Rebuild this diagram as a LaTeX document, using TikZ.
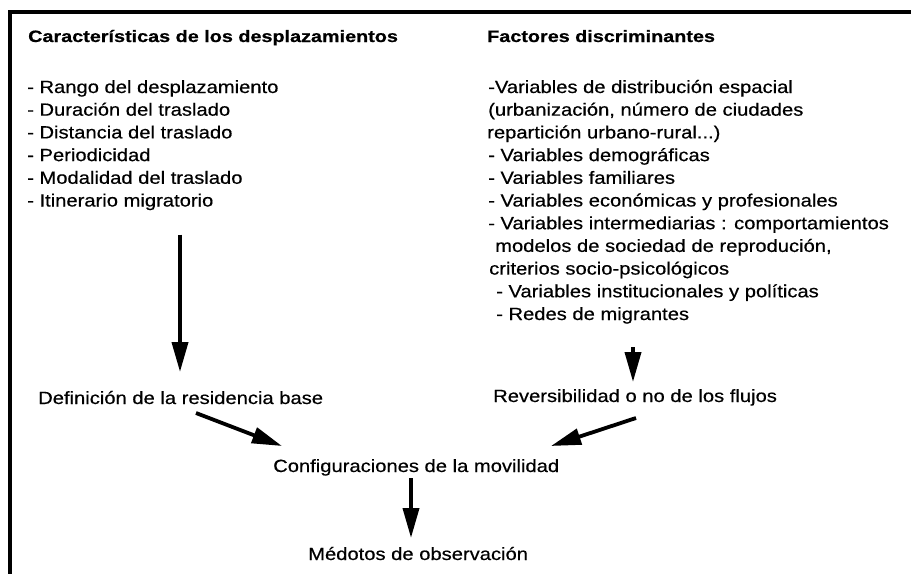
\documentclass[tikz,border=0pt]{standalone}
\usepackage{fontspec}
\setmainfont{Liberation Sans}[FakeStretch=1.14,FakeBold=0.5]
\newfontfamily\hdfont{Liberation Sans}[FakeStretch=1.2,FakeBold=0.6]
\usetikzlibrary{arrows.meta,calc}
\begin{document}
\begin{tikzpicture}[x=1pt,y=-1pt,
  txt/.style={anchor=base west,inner sep=0pt,font=\fontsize{17.7}{20}\selectfont},
  hd/.style={anchor=base west,inner sep=0pt,font=\hdfont\bfseries\fontsize{16.5}{20}\selectfont},
  arr/.style={line width=3.8pt,-{Triangle[length=30pt,width=16pt]}},
  framel/.style={line width=4pt}]
\useasboundingbox (0,0) rectangle (911,574);
\draw[framel] (911,12) -- (10,12) -- (10,574);

\node[hd] (h1) at (28,42) {Características de los desplazamientos};
\node[hd] (h2) at (487,42) {Factores discriminantes};

\node[txt] (l1) at (27,93)    {- Rango del desplazamiento};
\node[txt] (l2) at (27,115.7) {- Duración del traslado};
\node[txt] (l3) at (27,138.4) {- Distancia del traslado};
\node[txt] (l4) at (27,161.1) {- Periodicidad};
\node[txt] (l5) at (27,183.8) {- Modalidad del traslado};
\node[txt] (l6) at (27,206.5) {- Itinerario migratorio};

\node[txt] (r1)  at (488,93)    {-Variables de distribución espacial};
\node[txt] (r2)  at (488,115.7) {(urbanización, número de ciudades};
\node[txt] (r3)  at (487,138.4) {repartición urbano-rural...)};
\node[txt] (r4)  at (488,161.1) {- Variables demográficas};
\node[txt] (r5)  at (488,183.8) {- Variables familiares};
\node[txt] (r6)  at (488,206.5) {- Variables económicas y profesionales};
\node[txt] (r7)  at (488,229.2) {- Variables intermediarias : comportamientos};
\node[txt] (r8)  at (495,251.9) {modelos de sociedad de reprodución,};
\node[txt] (r9)  at (489,274.6) {criterios socio-psicológicos};
\node[txt] (r10) at (496,297.3) {- Variables institucionales y políticas};
\node[txt] (r11) at (496,320)   {- Redes de migrantes};

\node[txt] (def)  at (38,404)  {Definición de la residencia base};
\node[txt] (rev)  at (493,402) {Reversibilidad o no de los flujos};
\node[txt] (conf) at (273,472) {Configuraciones de la movilidad};
\node[txt] (met)  at (308,560) {Médotos de observación};

\draw[arr] ($(l6.base west)+(153,28)$) -- ($(def.base west)+(142,-32)$);
\draw[arr] ($(r11.base west)+(137,27)$) -- ($(rev.base west)+(140,-20)$);
\draw[arr] ($(def.base west)+(158,9)$) -- ($(conf.base west)+(9,-26)$);
\draw[arr] ($(rev.base west)+(143,16)$) -- ($(conf.base west)+(278,-26)$);
\draw[arr] ($(conf.base west)+(138,6)$) -- ($(met.base west)+(103,-22)$);
\end{tikzpicture}
\end{document}
